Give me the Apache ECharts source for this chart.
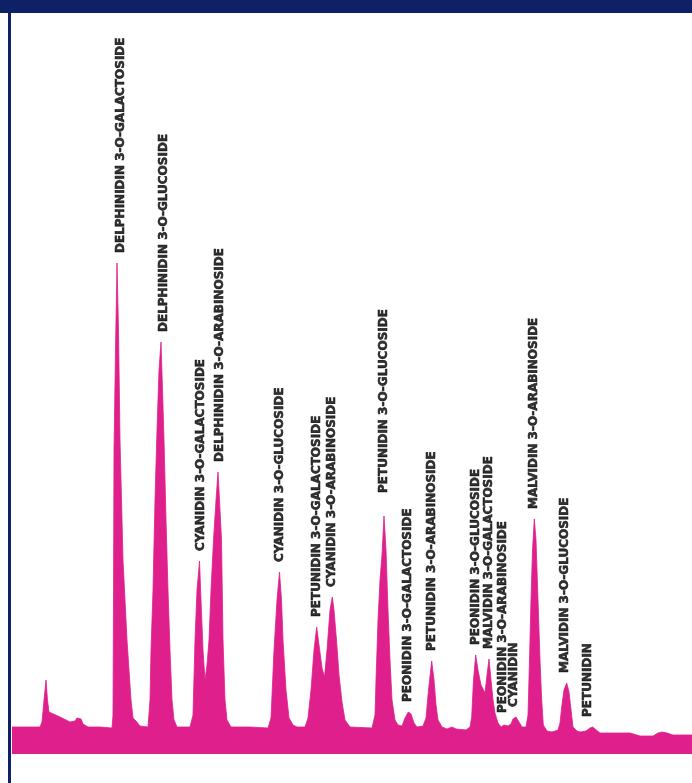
<!DOCTYPE html>
<html>
<head>
<meta charset="utf-8">
<title>Anthocyanin HPLC profile</title>
<script src="https://cdn.jsdelivr.net/npm/echarts@6/dist/echarts.min.js"></script>
<style>
  html, body { margin: 0; padding: 0; background: #ffffff; }
  #chart { width: 692px; height: 783px; }
</style>
</head>
<body>
<div id="chart"></div>
<script>
// Detector trace: retention time (min) and absorbance signal (mAU)
const traceTime = [
  0.00, 2.80, 3.00, 3.20, 3.40, 3.55, 3.70, 3.90, 4.80, 5.80, 6.30, 6.50, 6.70, 6.90, 7.10, 7.60, 8.80,
  10.00, 10.10, 10.15, 10.20, 10.35, 10.50, 10.65, 10.80, 11.10, 11.50, 11.90, 12.10, 12.40, 12.80,
  13.60, 13.80, 13.90, 14.10, 14.30, 14.50, 14.70, 14.90, 15.05, 15.20, 15.40, 15.60, 15.80, 16.00, 16.20, 16.50,
  17.80, 18.10, 18.30, 18.50, 18.75, 18.90, 19.10, 19.30, 19.50, 19.70, 19.90, 20.15, 20.40, 20.60, 20.75, 20.95,
  21.10, 21.30, 21.50, 21.90, 23.80,
  25.60, 25.90, 26.20, 26.50, 26.75, 26.95, 27.10, 27.40, 27.70, 28.10, 28.50,
  29.30, 29.60, 29.90, 30.20, 30.47, 30.70, 31.00, 31.25, 31.50, 31.80, 32.03, 32.20, 32.45, 32.70, 33.00, 33.30, 33.80,
  36.00, 36.30, 36.40, 36.60, 36.80, 37.00, 37.20, 37.40, 37.60, 37.80, 38.00, 38.30, 38.60,
  39.00, 39.30, 39.63, 39.90, 40.20, 40.50, 41.10, 41.40, 41.65, 41.97, 42.20, 42.40, 42.60, 43.00, 43.50, 44.00, 44.40, 45.40,
  45.80, 45.97, 46.15, 46.37, 46.60, 46.90, 47.30, 47.50, 47.70, 47.90, 48.10, 48.30, 48.60, 48.90,
  49.20, 49.40, 49.60, 49.90, 50.10, 50.40, 50.70, 51.00, 51.40,
  51.60, 51.75, 51.90, 52.05, 52.23, 52.40, 52.60, 52.80, 52.97, 53.13, 53.50, 54.00, 54.60,
  54.80, 54.97, 55.20, 55.47, 55.70, 55.87, 56.10, 56.50, 56.80, 57.40, 57.80, 58.07, 58.30, 58.80,
  60.30, 61.80, 62.80, 64.10, 64.60, 65.00, 65.50, 66.10, 68.00
];
const traceSignal = [
  27, 27, 32, 54, 74, 54, 42, 40, 37, 32, 33, 36, 38, 35, 30, 27, 27,
  26, 39, 154, 304, 404, 491, 424, 314, 194, 114, 54, 36, 33, 28,
  27, 54, 104, 164, 254, 324, 384, 412, 364, 314, 234, 164, 104, 54, 34, 27,
  27, 39, 114, 164, 193, 154, 104, 74, 89, 114, 164, 214, 254, 282, 254, 214,
  114, 54, 34, 27, 27,
  26, 36, 104, 154, 182, 154, 114, 64, 36, 29, 27,
  27, 36, 64, 104, 127, 109, 86, 77, 104, 144, 157, 144, 114, 79, 52, 34, 27,
  26, 39, 74, 134, 174, 199, 238, 204, 144, 94, 54, 34, 29,
  28, 36, 42, 40, 31, 27, 28, 36, 64, 93, 74, 49, 34, 27, 25, 27, 25, 24,
  27, 37, 74, 99, 84, 69, 61, 79, 95, 74, 54, 41, 31, 27,
  29, 31, 28, 30, 35, 37, 32, 27, 27,
  39, 94, 154, 204, 235, 214, 154, 94, 54, 29, 23, 22, 24,
  31, 47, 64, 71, 62, 47, 27, 23, 22, 23, 26, 27, 25, 21,
  21, 21, 18, 18, 21, 22, 21, 19, 19
];

// Identified peaks (elution order) with apex time and height
const peakNames = [
  'DELPHINIDIN 3-O-GALACTOSIDE',
  'DELPHINIDIN 3-O-GLUCOSIDE',
  'CYANIDIN 3-O-GALACTOSIDE',
  'DELPHINIDIN 3-O-ARABINOSIDE',
  'CYANIDIN 3-O-GLUCOSIDE',
  'PETUNIDIN 3-O-GALACTOSIDE',
  'CYANIDIN 3-O-ARABINOSIDE',
  'PETUNIDIN 3-O-GLUCOSIDE',
  'PEONIDIN 3-O-GALACTOSIDE',
  'PETUNIDIN 3-O-ARABINOSIDE',
  'PEONIDIN 3-O-GLUCOSIDE',
  'MALVIDIN 3-O-GALACTOSIDE',
  'PEONIDIN 3-O-ARABINOSIDE',
  'CYANIDIN',
  'MALVIDIN 3-O-ARABINOSIDE',
  'MALVIDIN 3-O-GLUCOSIDE',
  'PETUNIDIN'
];
const peakTimes = [10.50, 14.90, 18.75, 20.60, 26.75, 30.47, 32.03, 37.20, 39.63, 41.97, 46.37, 47.70, 49.40, 50.40, 52.23, 55.47, 58.07];
const peakHeights = [491, 412, 193, 282, 182, 127, 157, 238, 42, 93, 99, 95, 31, 37, 235, 71, 27];

// Label placement tweaks (pixels): sideways shift and extra lift above the apex
const labelShift = {
  'DELPHINIDIN 3-O-GALACTOSIDE': 4,
  'DELPHINIDIN 3-O-GLUCOSIDE': 3,
  'CYANIDIN 3-O-GALACTOSIDE': 1,
  'DELPHINIDIN 3-O-ARABINOSIDE': 2,
  'MALVIDIN 3-O-GLUCOSIDE': -2,
  'PEONIDIN 3-O-ARABINOSIDE': -3,
  'CYANIDIN': -2,
  'PETUNIDIN': -5
};
const labelLift = {
  'PETUNIDIN 3-O-GLUCOSIDE': 13
};

const chart = echarts.init(document.getElementById('chart'), null, { renderer: 'canvas' });

const traceData = traceTime.map((t, i) => [t, traceSignal[i]]);
const peakData = peakNames.map((name, i) => ({
  name: name,
  value: [peakTimes[i], peakHeights[i]],
  label: {
    position: [labelShift[name] || 0, -(10 + (labelLift[name] || 0))]
  }
}));

const NAVY = '#0f2166';
const MAGENTA = '#df1f8b';

chart.setOption({
  backgroundColor: '#ffffff',
  animation: false,
  grid: { left: 12, right: 0, top: 14, bottom: 29 },
  xAxis: {
    type: 'value', min: 0, max: 68,
    show: false
  },
  yAxis: {
    type: 'value', min: 0, max: 740,
    show: false
  },
  series: [
    {
      name: 'Absorbance',
      type: 'line',
      data: traceData,
      showSymbol: false,
      smooth: false,
      silent: true,
      lineStyle: { width: 0.8, color: MAGENTA },
      areaStyle: { color: MAGENTA, opacity: 1 },
      z: 2
    },
    {
      name: 'Peaks',
      type: 'scatter',
      data: peakData,
      symbolSize: 0,
      silent: true,
      z: 3,
      label: {
        show: true,
        formatter: '{b}',
        rotate: 90,
        align: 'left',
        verticalAlign: 'middle',
        color: '#000000',
        fontFamily: 'DejaVu Sans',
        fontWeight: 'bold',
        fontSize: 12,
        textBorderColor: '#000000',
        textBorderWidth: 0.6
      }
    }
  ],
  graphic: [
    { type: 'rect', left: 0, top: 0, shape: { width: 692, height: 13 }, style: { fill: NAVY }, z: 10 },
    { type: 'rect', left: 8, top: 0, shape: { width: 3, height: 783 }, style: { fill: NAVY }, z: 10 }
  ]
});
</script>
</body>
</html>
